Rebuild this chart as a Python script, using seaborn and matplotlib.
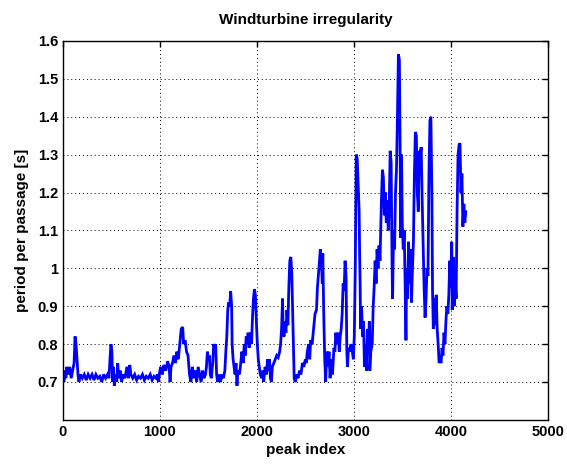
import matplotlib
matplotlib.use("Agg")
import matplotlib.pyplot as plt
import seaborn as sns
import pandas as pd

peak_index = [
    0, 10, 20, 30, 40, 55, 70, 85, 100, 115, 125, 135, 145, 155, 165, 180, 200, 220, 240, 260,
    280, 300, 320, 340, 360, 380, 400, 420, 440, 460, 475, 485, 495, 505, 512, 520, 530, 540, 555, 565,
    575, 590, 605, 620, 640, 660, 675, 690, 700, 720, 740, 760, 780, 800, 820, 840, 860, 880, 900, 920,
    940, 960, 975, 985, 1000, 1010, 1025, 1040, 1060, 1080, 1095, 1105, 1115, 1130, 1145, 1160, 1175, 1190, 1205, 1220,
    1235, 1245, 1260, 1275, 1290, 1305, 1320, 1335, 1350, 1365, 1380, 1395, 1410, 1425, 1440, 1455, 1470, 1480, 1490, 1500,
    1510, 1520, 1530, 1545, 1555, 1565, 1575, 1585, 1595, 1610, 1625, 1640, 1655, 1670, 1680, 1690, 1700, 1710, 1720, 1730,
    1740, 1745, 1755, 1765, 1775, 1785, 1795, 1805, 1820, 1830, 1845, 1860, 1870, 1880, 1890, 1900, 1910, 1920, 1935, 1945,
    1955, 1965, 1975, 1985, 1995, 2005, 2015, 2025, 2035, 2050, 2060, 2070, 2085, 2100, 2110, 2120, 2130, 2140, 2150, 2160,
    2175, 2190, 2205, 2220, 2235, 2245, 2255, 2265, 2270, 2280, 2290, 2300, 2310, 2320, 2330, 2340, 2350, 2360, 2370, 2378,
    2385, 2395, 2410, 2425, 2440, 2455, 2470, 2485, 2500, 2510, 2520, 2535, 2545, 2555, 2570, 2585, 2600, 2615, 2625, 2640,
    2655, 2665, 2675, 2680, 2690, 2700, 2710, 2720, 2730, 2745, 2755, 2770, 2780, 2795, 2805, 2815, 2825, 2840, 2850, 2860,
    2870, 2880, 2890, 2900, 2910, 2920, 2928, 2935, 2945, 2955, 2970, 2985, 2995, 3005, 3015, 3025, 3035, 3045, 3055, 3060,
    3065, 3070, 3080, 3090, 3100, 3110, 3120, 3130, 3140, 3150, 3160, 3165, 3175, 3190, 3200, 3210, 3220, 3230, 3240, 3250,
    3260, 3270, 3285, 3295, 3305, 3315, 3325, 3335, 3345, 3355, 3365, 3375, 3385, 3395, 3400, 3410, 3420, 3430, 3440, 3450,
    3460, 3470, 3478, 3485, 3492, 3500, 3510, 3520, 3530, 3538, 3545, 3555, 3565, 3575, 3585, 3595, 3605, 3615, 3625, 3635,
    3645, 3655, 3665, 3675, 3685, 3695, 3705, 3715, 3725, 3735, 3745, 3755, 3765, 3775, 3785, 3795, 3805, 3812, 3820, 3830,
    3840, 3850, 3860, 3870, 3880, 3890, 3900, 3910, 3920, 3930, 3940, 3950, 3960, 3970, 3980, 3990, 4000, 4010, 4015, 4025,
    4035, 4045, 4055, 4065, 4075, 4085, 4095, 4105, 4115, 4125, 4135, 4145, 4155,
]

period = [
    0.72, 0.70, 0.73, 0.71, 0.74, 0.72, 0.74, 0.71, 0.73, 0.75, 0.82, 0.80, 0.76, 0.72, 0.70, 0.72, 0.71, 0.72, 0.705, 0.72,
    0.71, 0.72, 0.705, 0.72, 0.71, 0.715, 0.70, 0.72, 0.71, 0.72, 0.71, 0.76, 0.80, 0.78, 0.70, 0.74, 0.69, 0.72, 0.70, 0.75,
    0.71, 0.73, 0.70, 0.72, 0.71, 0.74, 0.71, 0.745, 0.72, 0.71, 0.72, 0.705, 0.715, 0.71, 0.72, 0.705, 0.715, 0.71, 0.72, 0.705,
    0.715, 0.71, 0.72, 0.70, 0.73, 0.74, 0.72, 0.745, 0.73, 0.755, 0.74, 0.70, 0.74, 0.75, 0.77, 0.75, 0.78, 0.76, 0.80, 0.84,
    0.845, 0.80, 0.81, 0.78, 0.77, 0.72, 0.70, 0.74, 0.71, 0.73, 0.70, 0.74, 0.72, 0.70, 0.73, 0.71, 0.72, 0.74, 0.78, 0.76,
    0.77, 0.72, 0.71, 0.75, 0.80, 0.79, 0.80, 0.72, 0.70, 0.72, 0.70, 0.72, 0.71, 0.73, 0.78, 0.82, 0.89, 0.91, 0.90, 0.94,
    0.90, 0.80, 0.76, 0.74, 0.72, 0.75, 0.69, 0.73, 0.72, 0.74, 0.78, 0.75, 0.80, 0.77, 0.82, 0.80, 0.83, 0.79, 0.83, 0.80,
    0.87, 0.92, 0.945, 0.93, 0.86, 0.80, 0.76, 0.74, 0.72, 0.71, 0.73, 0.70, 0.74, 0.72, 0.76, 0.73, 0.76, 0.71, 0.70, 0.74,
    0.75, 0.76, 0.77, 0.765, 0.78, 0.80, 0.84, 0.92, 0.85, 0.82, 0.86, 0.83, 0.89, 0.85, 0.95, 1.02, 1.03, 0.99, 0.88, 0.78,
    0.71, 0.70, 0.72, 0.71, 0.73, 0.72, 0.75, 0.74, 0.76, 0.75, 0.78, 0.80, 0.76, 0.81, 0.80, 0.84, 0.88, 0.89, 0.95, 1.00,
    1.05, 1.02, 0.96, 1.04, 0.88, 0.76, 0.70, 0.78, 0.74, 0.78, 0.71, 0.76, 0.72, 0.79, 0.78, 0.83, 0.80, 0.83, 0.78, 0.82,
    0.84, 0.88, 0.96, 0.94, 1.02, 0.98, 0.78, 0.74, 0.79, 0.78, 0.80, 0.78, 0.76, 0.82, 1.00, 1.30, 1.29, 1.22, 1.15, 1.04,
    0.96, 0.84, 0.90, 0.82, 0.86, 0.74, 0.80, 0.73, 0.84, 0.78, 0.86, 0.73, 0.78, 0.80, 0.90, 0.95, 1.02, 0.96, 1.05, 1.00,
    1.06, 1.02, 1.18, 1.26, 1.24, 1.14, 1.20, 1.12, 1.18, 1.10, 1.16, 1.31, 1.28, 1.00, 0.92, 1.10, 1.05, 1.20, 1.26, 1.40,
    1.565, 1.55, 1.30, 1.08, 1.30, 1.12, 1.05, 1.10, 0.95, 0.81, 1.00, 0.92, 1.07, 0.96, 1.05, 0.91, 1.00, 1.07, 1.25, 1.36,
    1.35, 1.20, 1.15, 1.31, 1.30, 1.32, 1.18, 1.07, 0.95, 0.87, 0.92, 1.00, 0.98, 1.25, 1.39, 1.40, 1.20, 0.94, 0.84, 0.92,
    0.85, 0.93, 0.84, 0.80, 0.75, 0.76, 0.75, 0.79, 0.77, 0.83, 0.80, 0.86, 0.90, 0.88, 0.93, 1.02, 0.95, 1.07, 0.89, 1.03,
    0.90, 0.98, 0.92, 1.15, 1.30, 1.325, 1.33, 1.20, 1.25, 1.11, 1.17, 1.12, 1.15,
]

x_ticks = [0, 1000, 2000, 3000, 4000, 5000]
y_ticks = [0.7, 0.8, 0.9, 1.0, 1.1, 1.2, 1.3, 1.4, 1.5, 1.6]
y_tick_labels = ["0.7", "0.8", "0.9", "1", "1.1", "1.2", "1.3", "1.4", "1.5", "1.6"]

df = pd.DataFrame({"peak index": peak_index, "period": period})

sns.set_style("white")
plt.rcParams["font.family"] = ["Liberation Sans", "DejaVu Sans"]
plt.rcParams["text.color"] = "black"
plt.rcParams["axes.labelcolor"] = "black"
plt.rcParams["xtick.color"] = "black"
plt.rcParams["ytick.color"] = "black"

fig = plt.figure(figsize=(5.67, 4.65), dpi=100)
ax = fig.add_axes([0.111, 0.097, 0.855, 0.815])

sns.lineplot(data=df, x="peak index", y="period", color="#0000ff", linewidth=2.0,
             estimator=None, sort=False, ax=ax)
ax.lines[0].set_solid_joinstyle("miter")

ax.set_xlim(0, 5000)
ax.set_ylim(0.6, 1.6)
ax.set_xticks(x_ticks)
ax.set_xticklabels([str(t) for t in x_ticks])
ax.set_yticks(y_ticks)
ax.set_yticklabels(y_tick_labels)
ax.grid(True, linestyle=(0, (1, 3)), color="black", linewidth=0.7)
ax.tick_params(direction="in", top=True, right=True, length=4, width=1,
               labelsize=10.5, colors="black")
for lab in ax.get_xticklabels() + ax.get_yticklabels():
    lab.set_fontweight("bold")
for sp in ax.spines.values():
    sp.set_color("black")
    sp.set_linewidth(1.0)

ax.set_xlabel("peak index", fontsize=11, fontweight="bold", labelpad=3, color="black")
ax.set_ylabel("period per passage [s]", fontsize=11, fontweight="bold", labelpad=6, color="black")
ax.set_title("Windturbine irregularity", fontsize=11, fontweight="bold", pad=12, color="black")

fig.savefig("out.png", dpi=100)
